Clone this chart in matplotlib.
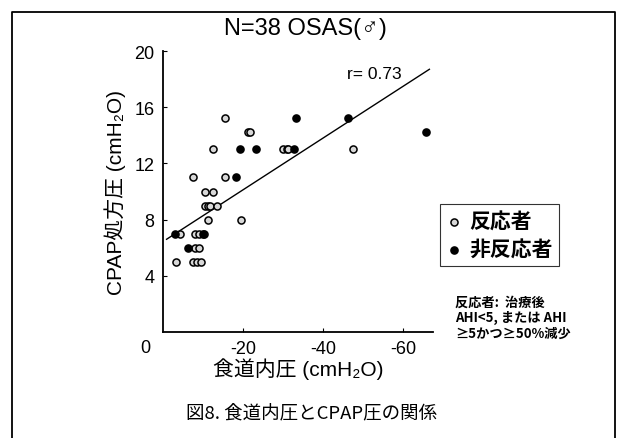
import matplotlib.pyplot as plt
from matplotlib.lines import Line2D
import numpy as np

plt.rcParams['font.family'] = ['Liberation Sans', 'Noto Sans CJK JP', 'DejaVu Sans']

# responders (open circles)
resp_x = [-3.3, -4.3, -7.5, -8.5, -9.5, -8.0, -9.0, -8.0, -9.0, -10.3, -7.5, -10.5, -12.5,
          -10.5, -11.2, -11.8, -13.4, -11.3, -12.4, -15.5, -15.5, -21.2, -21.7, -19.4,
          -30.0, -31.0, -31.3, -47.6]
resp_y = [5, 7, 5, 5, 5, 6, 6, 7, 7, 7, 11, 10, 10,
          9, 9, 9, 9, 8, 13, 15.2, 11, 14.2, 14.2, 8,
          13, 13, 13, 13]
# non-responders (filled circles)
non_x = [-3.0, -6.3, -18.3, -19.3, -23.2, -32.8, -33.2, -46.3, -65.8, -10.0]
non_y = [7, 6, 11, 13, 13, 13, 15.2, 15.2, 14.2, 7]

# regression line
fit_x = [-0.9, -66.6]
fit_y = [6.6, 18.7]

x_ticks = [-20, -40, -60]
y_ticks = [4, 8, 12, 16, 20]

fig = plt.figure(figsize=(6.19, 4.39), dpi=100)
ax = fig.add_axes([0.2633, 0.2415, 0.4362, 0.64])

ax.plot(fit_x, fit_y, color='black', lw=1.0, zorder=2)
ax.scatter(resp_x, resp_y, s=26, facecolor='#d8d8d8', edgecolor='black', lw=1.1,
           zorder=3, label='反応者')
ax.scatter(non_x, non_y, s=26, facecolor='black', edgecolor='black', lw=1.1,
           zorder=4, label='非反応者')

ax.set_xlim(0, -67.5)
ax.set_ylim(0, 20)
ax.set_xticks(x_ticks)
ax.set_xticklabels([str(t) for t in x_ticks])
ax.set_yticks(y_ticks)
ax.tick_params(direction='in', length=3, labelsize=13, pad=6, width=0.8)
for s in ['top', 'right']:
    ax.spines[s].set_visible(False)
for s in ['left', 'bottom']:
    ax.spines[s].set_linewidth(1.3)

ax.text(-0.065, -0.055, '0', transform=ax.transAxes, fontsize=13,
        ha='center', va='center')
ax.text(0.885, 0.92, 'r= 0.73', transform=ax.transAxes, fontsize=12.5,
        ha='right', va='center')

lab_fam = ['Liberation Sans', 'Noto Sans CJK JP', 'DejaVu Sans']
ax.set_xlabel('食道内圧 (cmH₂O)', fontsize=15, labelpad=0, family=lab_fam)
ax.set_ylabel('CPAP処方圧 (cmH₂O)', fontsize=15, labelpad=6, family=lab_fam)

fig.text(0.493, 0.934, 'N=38 OSAS(♂)', fontsize=17, ha='center', va='center',
         family=['Liberation Sans', 'DejaVu Sans'])

leg = fig.legend(loc='upper left', bbox_to_anchor=(440 / 619, 1 - 205 / 439),
                 frameon=True, fancybox=False, edgecolor='black',
                 handletextpad=0.4, borderpad=0.3, labelspacing=0.35,
                 handlelength=0.7, borderaxespad=0,
                 prop={'family': ['Noto Sans CJK JP'], 'weight': 'bold', 'size': 15})
leg.get_frame().set_linewidth(0.8)

fig.text(455 / 619, 1 - 318 / 439, '反応者:  治療後\nAHI<5, または AHI\n≥5かつ≥50%減少',
         fontsize=9.5, fontweight='bold', ha='left', va='center', linespacing=1.15,
         family=['Noto Sans CJK JP', 'DejaVu Sans'])

fig.text(0.503, 1 - 413 / 439, '図8. 食道内圧とCPAP圧の関係', fontsize=13.3,
         ha='center', va='center', family=['Noto Sans CJK JP', 'DejaVu Sans'])

# outer frame
fx0, fx1, fy1 = 12 / 619, 615 / 619, 1 - 13 / 439
fig.add_artist(Line2D([fx0, fx0, fx1, fx1], [0, fy1, fy1, 0],
                      transform=fig.transFigure, color='black', lw=1.3))

fig.savefig('out.png', dpi=100)
